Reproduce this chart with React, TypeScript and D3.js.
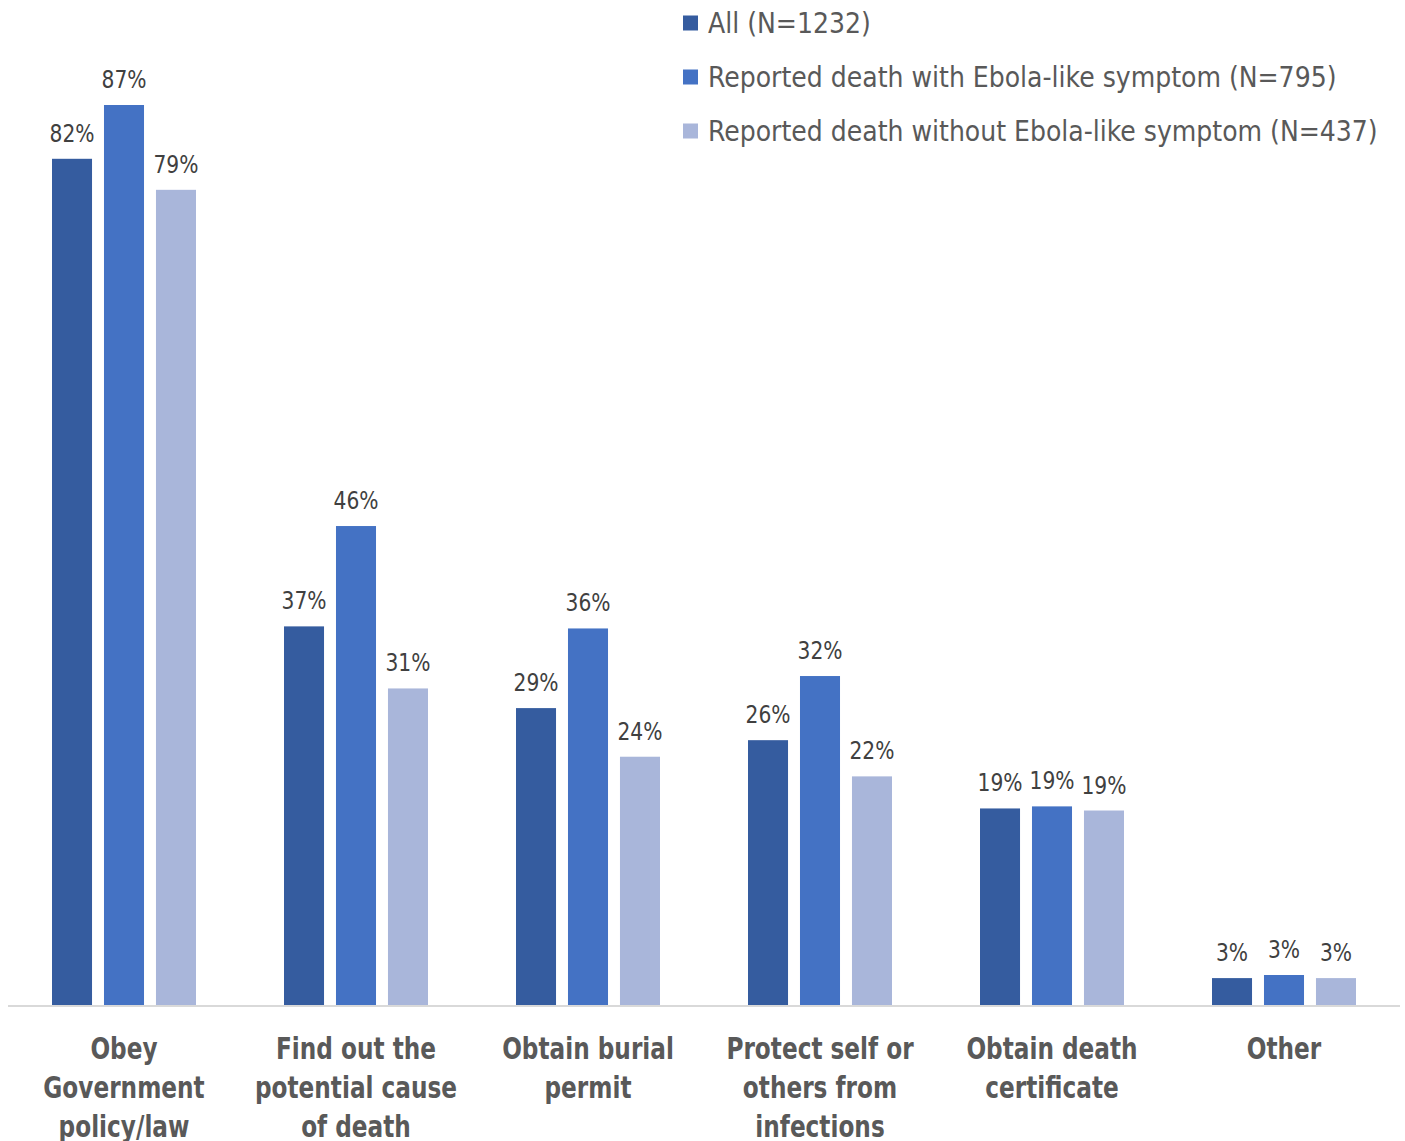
import React from 'react';
import * as d3 from 'd3';

// Data
const categories = [
  ['Obey', 'Government', 'policy/law'],
  ['Find out the', 'potential cause', 'of death'],
  ['Obtain burial', 'permit'],
  ['Protect self or', 'others from', 'infections'],
  ['Obtain death', 'certificate'],
  ['Other'],
];
const seriesNames = [
  'All (N=1232)',
  'Reported death with Ebola-like symptom (N=795)',
  'Reported death without Ebola-like symptom (N=437)',
];
const allValues = [81.8, 36.6, 28.7, 25.6, 19.0, 2.6];
const withSymptomValues = [87.0, 46.3, 36.4, 31.8, 19.2, 2.9];
const withoutSymptomValues = [78.8, 30.6, 24.0, 22.1, 18.8, 2.6];
const seriesValues = [allValues, withSymptomValues, withoutSymptomValues];
const colors = ['#355c9f', '#4472c4', '#a9b6da'];

const W = 1405;
const H = 1141;
const FONT = "'Liberation Sans Narrow', 'DejaVu Sans Condensed', 'Arial Narrow', sans-serif";

// text squeezed horizontally to mimic the narrow font of the original
const Narrow: React.FC<{
  x: number;
  y: number;
  sx: number;
  anchor?: string;
  size: number;
  weight?: string;
  fill: string;
  children: React.ReactNode;
}> = ({ x, y, sx, anchor = 'start', size, weight = 'normal', fill, children }) => (
  <g transform={`translate(${x},${y}) scale(${sx},1)`}>
    <text textAnchor={anchor} fontSize={size} fontWeight={weight} fill={fill}>
      {children}
    </text>
  </g>
);

export default function App() {
  const baseline = 1005;
  const catIds = categories.map((_, i) => String(i));

  const x0 = d3.scaleBand<string>().domain(catIds).range([8, 1400]).padding(0);
  const x1 = d3.scaleBand<string>().domain(['0', '1', '2']).range([0, 144]).paddingInner(0.23);
  const y = d3.scaleLinear().domain([0, 87]).range([baseline, 105]);

  const groupOffset = (x0.bandwidth() - 144) / 2;

  return (
    <div style={{ position: 'absolute', left: 0, top: 0 }}>
      <svg width={W} height={H} style={{ display: 'block', background: '#fff' }} fontFamily={FONT}>
        {/* legend */}
        {seriesNames.map((name, i) => (
          <g key={name} transform={`translate(683,${23 + i * 54})`}>
            <rect x={0} y={-7.5} width={15} height={15} fill={colors[i]} />
            <Narrow x={25} y={10} sx={0.965} size={29} fill="#595959">
              {name}
            </Narrow>
          </g>
        ))}

        {/* bars */}
        {categories.map((_, ci) => {
          const gx = (x0(String(ci)) ?? 0) + groupOffset;
          return (
            <g key={ci} transform={`translate(${gx},0)`}>
              {seriesValues.map((vals, si) => {
                const v = vals[ci];
                const bx = x1(String(si)) ?? 0;
                return (
                  <g key={si}>
                    <rect
                      x={bx}
                      y={y(v)}
                      width={x1.bandwidth()}
                      height={baseline - y(v)}
                      fill={colors[si]}
                    />
                    <Narrow
                      x={bx + x1.bandwidth() / 2}
                      y={y(v) - 17}
                      sx={0.9}
                      anchor="middle"
                      size={25}
                      fill="#404040"
                    >
                      {Math.round(v)}%
                    </Narrow>
                  </g>
                );
              })}
            </g>
          );
        })}

        {/* axis line */}
        <line x1={8} x2={1400} y1={baseline + 1} y2={baseline + 1} stroke="#d9d9d9" strokeWidth={2} />

        {/* category labels */}
        {categories.map((lines, ci) => {
          const cx = (x0(String(ci)) ?? 0) + x0.bandwidth() / 2;
          return lines.map((ln, li) => (
            <Narrow
              key={`${ci}-${li}`}
              x={cx}
              y={1059 + li * 39}
              sx={0.86}
              anchor="middle"
              size={30}
              weight="bold"
              fill="#595959"
            >
              {ln}
            </Narrow>
          ));
        })}
      </svg>
    </div>
  );
}
